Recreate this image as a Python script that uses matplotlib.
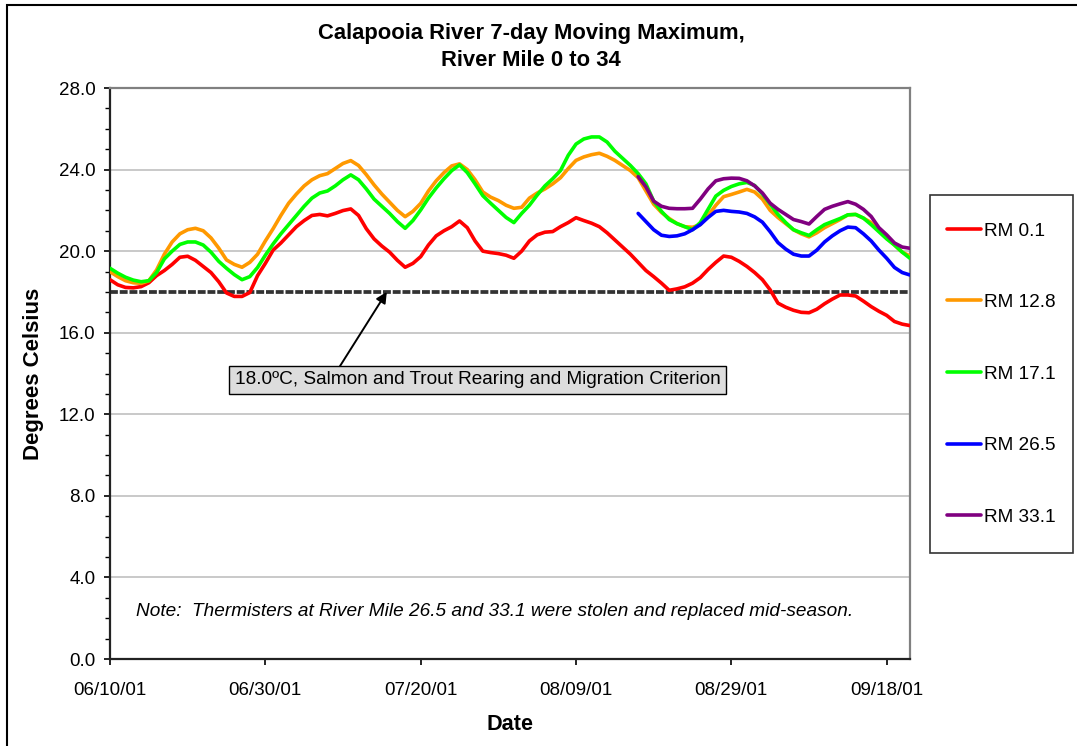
import numpy as np
import matplotlib
matplotlib.use("Agg")
import matplotlib.pyplot as plt
import matplotlib.dates as mdates
from matplotlib.patches import Rectangle
from matplotlib.ticker import FixedLocator, MultipleLocator, FormatStrFormatter

plt.rcParams['font.family'] = ['Liberation Sans', 'DejaVu Sans']

# ---------------- data ----------------
start_date = np.datetime64('2001-06-10')

rm01_days = list(range(0, 104))
rm01_vals = [18.6, 18.35, 18.22, 18.2, 18.26, 18.45, 18.8, 19.05, 19.35, 19.7,
             19.75, 19.55, 19.25, 18.95, 18.5, 17.95, 17.78, 17.78, 17.97, 18.8,
             19.4, 20.05, 20.4, 20.8, 21.2, 21.5, 21.75, 21.8, 21.73, 21.85,
             21.99, 22.07, 21.75, 21.1, 20.6, 20.25, 19.95, 19.55, 19.21, 19.4,
             19.73, 20.3, 20.75, 21.0, 21.2, 21.48, 21.15, 20.5, 20.0, 19.93,
             19.88, 19.8, 19.65, 20.0, 20.5, 20.8, 20.93, 20.96, 21.2, 21.4,
             21.64, 21.5, 21.37, 21.2, 20.9, 20.55, 20.2, 19.85, 19.45, 19.05,
             18.75, 18.43, 18.08, 18.15, 18.25, 18.43, 18.7, 19.1, 19.45, 19.76,
             19.7, 19.5, 19.25, 18.95, 18.6, 18.1, 17.45, 17.25, 17.1, 17.0,
             16.98, 17.15, 17.42, 17.65, 17.85, 17.85, 17.8, 17.55, 17.28, 17.05,
             16.85, 16.55, 16.42, 16.35]

rm128_days = list(range(0, 104))
rm128_vals = [18.99, 18.75, 18.55, 18.45, 18.42, 18.55, 19.08, 19.85, 20.45, 20.85,
              21.05, 21.12, 21.0, 20.65, 20.15, 19.57, 19.35, 19.21, 19.45, 19.85,
              20.5, 21.1, 21.75, 22.35, 22.8, 23.2, 23.5, 23.7, 23.8, 24.05,
              24.3, 24.44, 24.2, 23.75, 23.25, 22.8, 22.4, 22.0, 21.69, 21.95,
              22.34, 22.95, 23.45, 23.85, 24.18, 24.28, 24.0, 23.5, 22.9, 22.65,
              22.48, 22.25, 22.1, 22.15, 22.6, 22.85, 23.05, 23.3, 23.6, 24.05,
              24.45, 24.62, 24.73, 24.8, 24.65, 24.45, 24.2, 23.95, 23.6, 22.95,
              22.3, 21.9, 21.6, 21.35, 21.2, 21.17, 21.3, 21.75, 22.25, 22.67,
              22.78, 22.9, 23.03, 22.9, 22.55, 22.0, 21.65, 21.35, 21.05, 20.85,
              20.7, 20.9, 21.15, 21.35, 21.55, 21.78, 21.8, 21.62, 21.4, 21.0,
              20.65, 20.3, 19.95, 19.76]

rm171_days = list(range(0, 104))
rm171_vals = [19.16, 18.92, 18.72, 18.58, 18.5, 18.55, 18.95, 19.62, 20.0, 20.33,
              20.45, 20.45, 20.3, 19.95, 19.5, 19.16, 18.85, 18.6, 18.75, 19.2,
              19.8, 20.35, 20.85, 21.3, 21.75, 22.2, 22.6, 22.85, 22.95, 23.2,
              23.5, 23.74, 23.5, 23.05, 22.55, 22.2, 21.85, 21.45, 21.12, 21.5,
              22.02, 22.6, 23.1, 23.55, 23.95, 24.23, 23.85, 23.3, 22.72, 22.35,
              22.0, 21.65, 21.4, 21.85, 22.25, 22.75, 23.2, 23.55, 23.95, 24.7,
              25.25, 25.5, 25.6, 25.6, 25.35, 24.9, 24.55, 24.2, 23.8, 23.3,
              22.45, 21.95, 21.55, 21.35, 21.2, 21.05, 21.4, 22.05, 22.7, 22.98,
              23.17, 23.3, 23.37, 23.22, 22.8, 22.3, 21.8, 21.4, 21.05, 20.9,
              20.77, 21.05, 21.3, 21.45, 21.6, 21.78, 21.8, 21.62, 21.3, 20.95,
              20.6, 20.3, 19.95, 19.65]

rm265_days = list(range(68, 104))
rm265_vals = [21.85, 21.45, 21.05, 20.78, 20.72, 20.75, 20.85, 21.05, 21.3, 21.65,
              21.95, 22.0, 21.95, 21.92, 21.85, 21.68, 21.42, 20.95, 20.42, 20.1,
              19.85, 19.76, 19.76, 20.05, 20.45, 20.75, 21.0, 21.18, 21.15, 20.85,
              20.5, 20.05, 19.65, 19.2, 18.95, 18.83]

rm331_days = list(range(68, 104))
rm331_vals = [23.65, 23.15, 22.45, 22.2, 22.1, 22.08, 22.08, 22.1, 22.55, 23.05,
              23.45, 23.55, 23.58, 23.57, 23.45, 23.2, 22.85, 22.35, 22.05, 21.8,
              21.55, 21.45, 21.33, 21.7, 22.05, 22.2, 22.32, 22.43, 22.3, 22.05,
              21.7, 21.15, 20.8, 20.4, 20.2, 20.14]

series_labels = ['RM 0.1', 'RM 12.8', 'RM 17.1', 'RM 26.5', 'RM 33.1']
series_colors = ['#FF0000', '#FF9900', '#00FF00', '#0000FF', '#800080']

criterion = 18.0
tick_dates = ['2001-06-10', '2001-06-30', '2001-07-20', '2001-08-09', '2001-08-29', '2001-09-18']
tick_labels = ['06/10/01', '06/30/01', '07/20/01', '08/09/01', '08/29/01', '09/18/01']
end_date = '2001-09-21'

# ---------------- figure ----------------
W, H = 1077, 746
fig = plt.figure(figsize=(W / 100, H / 100), dpi=100)
ax = fig.add_axes([110 / W, 1 - 659 / H, 800 / W, 571 / H])

all_days = [rm01_days, rm128_days, rm171_days, rm265_days, rm331_days]
all_vals = [rm01_vals, rm128_vals, rm171_vals, rm265_vals, rm331_vals]
handles = []
for d, v, lab, col in zip(all_days, all_vals, series_labels, series_colors):
    dates = start_date + np.array(d).astype('timedelta64[D]')
    ln, = ax.plot(dates, v, color=col, lw=2.6, label=lab, solid_joinstyle='round',
                  solid_capstyle='round', zorder=3)
    handles.append(ln)

ax.axhline(criterion, color='#333333', lw=2.7, linestyle=(0, (2.1, 0.5)), zorder=2)

ax.set_xlim(np.datetime64('2001-06-10'), np.datetime64(end_date))
ax.set_ylim(0, 28)
ax.yaxis.set_major_locator(MultipleLocator(4))
ax.yaxis.set_minor_locator(MultipleLocator(1))
ax.yaxis.set_major_formatter(FormatStrFormatter('%.1f'))
ax.xaxis.set_major_locator(FixedLocator(mdates.date2num(np.array(tick_dates, dtype='datetime64[D]'))))
ax.set_xticklabels(tick_labels)

ax.tick_params(axis='both', which='major', direction='out', length=4.5, width=1.2,
               labelsize=13.5, color='black')
ax.tick_params(axis='y', which='minor', direction='out', length=3.6, width=1.0, color='black')
ax.tick_params(axis='x', which='major', pad=12)
ax.tick_params(axis='y', which='major', pad=6)

ax.grid(axis='y', which='major', color='#c0c0c0', lw=1.2, zorder=0)
ax.set_axisbelow(True)
for s in ['top', 'right']:
    ax.spines[s].set_color('#808080')
    ax.spines[s].set_linewidth(1.6)
for s in ['left', 'bottom']:
    ax.spines[s].set_color('#222222')
    ax.spines[s].set_linewidth(1.6)

ax.set_ylabel('Degrees Celsius', fontsize=16, fontweight='bold', va='center', ha='center')
ax.yaxis.set_label_coords((33 - 110) / 800, 0.5)
ax.set_xlabel('Date', fontsize=15.6, fontweight='bold', va='center', ha='center')
ax.xaxis.set_label_coords((510 - 110) / 800, (659 - 725) / 571)

# title
fig.text(531 / W, 1 - 33 / H, 'Calapooia River 7-day Moving Maximum,', ha='center', va='center',
         fontsize=15.8, fontweight='bold')
fig.text(531 / W, 1 - 60 / H, 'River Mile 0 to 34', ha='center', va='center',
         fontsize=15.8, fontweight='bold')

# criterion annotation
ax.annotate('', xy=(0.346, criterion), xycoords=('axes fraction', 'data'),
            xytext=(0.2875, 0.513), textcoords='axes fraction',
            arrowprops=dict(arrowstyle='-|>', color='black', lw=1.4, mutation_scale=16,
                            shrinkA=0, shrinkB=0), zorder=5)
ax.text(0.4594, 0.489, '18.0ºC, Salmon and Trout Rearing and Migration Criterion',
        transform=ax.transAxes, ha='center', va='center', fontsize=13.7,
        bbox=dict(boxstyle='square,pad=0.28', fc='#dddddd', ec='black', lw=1.0), zorder=6)

ax.text(0.0325, 0.084, 'Note:  Thermisters at River Mile 26.5 and 33.1 were stolen and replaced mid-season.',
        transform=ax.transAxes, ha='left', va='center', fontsize=13.7, style='italic')

# legend box
fig.patches.append(Rectangle((930 / W, 1 - 553 / H), 143 / W, 358 / H, transform=fig.transFigure,
                             fill=True, fc='white', ec='#333333', lw=1.2))
leg = fig.legend(handles=handles, labels=series_labels, loc='center left',
                 bbox_to_anchor=(947 / W, 1 - 374 / H), frameon=False, fontsize=13.7,
                 handlelength=1.8, handletextpad=0.15, labelspacing=2.85, borderpad=0,
                 borderaxespad=0)

# outer border (top and left visible)
fig.patches.append(Rectangle((7 / W, -0.1), 1.2, 1.1 - 5 / H, transform=fig.transFigure,
                             fill=False, ec='black', lw=1.5, clip_on=False))

fig.savefig('out.png', dpi=100)
